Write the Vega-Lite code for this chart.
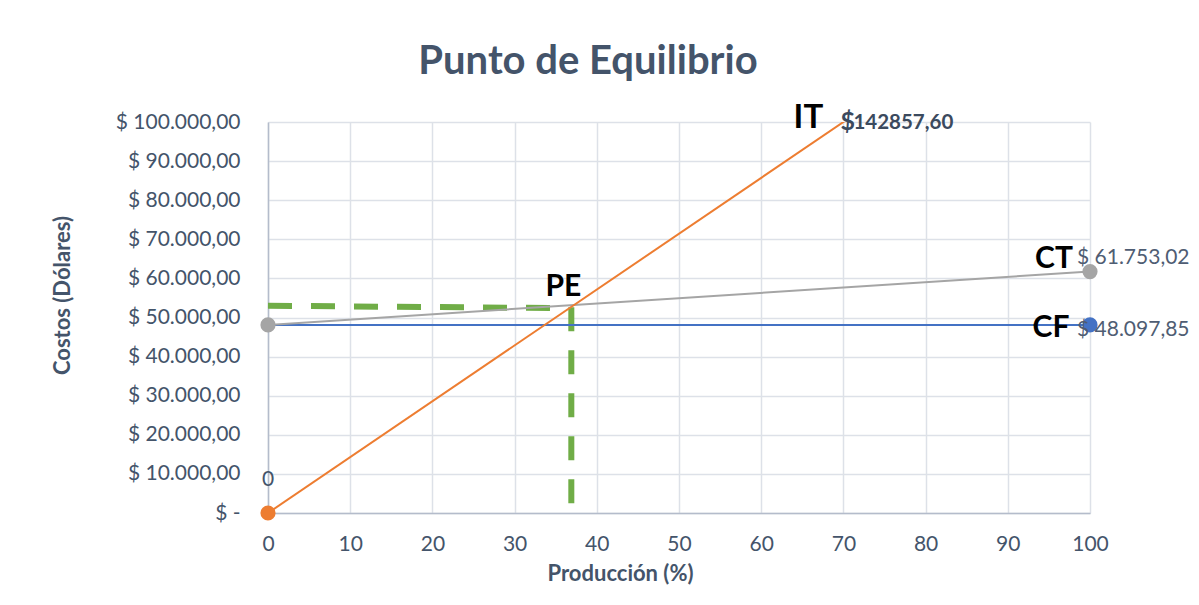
{
  "$schema": "https://vega.github.io/schema/vega-lite/v6.json",
  "autosize": "none",
  "width": 822,
  "height": 391,
  "padding": {"left": 268, "top": 122, "right": 109, "bottom": 92},
  "background": "white",
  "config": {
    "locale": {"number": {"decimal": ",", "thousands": ".", "grouping": [3], "currency": ["$ ", ""]}},
    "font": "Lato",
    "view": {"stroke": null},
    "axis": {
      "labelFont": "Lato",
      "labelFontSize": 21,
      "labelColor": "#44546A",
      "labelFlush": false,
      "titleFont": "Lato",
      "titleFontSize": 22,
      "titleFontWeight": "bold",
      "titleColor": "#44546A",
      "gridColor": "#DDE1E8",
      "gridWidth": 1.5,
      "domainColor": "#B4BCCB",
      "domainWidth": 1.5,
      "ticks": false
    }
  },
  "title": {
    "text": "Punto de Equilibrio",
    "font": "Lato",
    "fontSize": 40,
    "fontWeight": "bold",
    "color": "#44546A",
    "anchor": "middle",
    "frame": "group",
    "dx": -91,
    "offset": 20
  },
  "datasets": {
    "lineas": [
      {"serie": "CF", "x": 0, "y": 48097.85},
      {"serie": "CF", "x": 100, "y": 48097.85},
      {"serie": "CT", "x": 0, "y": 48097.85},
      {"serie": "CT", "x": 100, "y": 61753.02},
      {"serie": "IT", "x": 0, "y": 0},
      {"serie": "IT", "x": 100, "y": 142857.6}
    ],
    "puntos": [
      {"serie": "CT", "x": 0, "y": 48097.85},
      {"serie": "CT", "x": 100, "y": 61753.02},
      {"serie": "CF", "x": 100, "y": 48097.85},
      {"serie": "IT", "x": 0, "y": 0}
    ],
    "guia": [
      {"tramo": "horizontal", "x": 0, "y": 53000},
      {"tramo": "horizontal", "x": 36.5, "y": 52400},
      {"tramo": "vertical", "x": 36.9, "y": 52600},
      {"tramo": "vertical", "x": 36.9, "y": 0}
    ]
  },
  "encoding": {
    "x": {
      "field": "x",
      "type": "quantitative",
      "scale": {"domain": [0, 100], "nice": false},
      "axis": {
        "values": [0, 10, 20, 30, 40, 50, 60, 70, 80, 90, 100],
        "grid": true,
        "labelPadding": 20,
        "title": "Producción (%)",
        "titleX": 352,
        "titleY": 60,
        "titleBaseline": "middle"
      }
    },
    "y": {
      "field": "y",
      "type": "quantitative",
      "scale": {"domain": [0, 100000], "nice": false},
      "axis": {
        "values": [0, 10000, 20000, 30000, 40000, 50000, 60000, 70000, 80000, 90000, 100000],
        "format": "$,.2f",
        "labelExpr": "datum.value === 0 ? '$ -\u00a0\u00a0' : datum.label",
        "labelPadding": 28,
        "grid": true,
        "title": "Costos (Dólares)",
        "titleX": -206,
        "titleY": 173,
        "titleBaseline": "middle"
      }
    }
  },
  "layer": [
    {
      "data": {"name": "guia"},
      "mark": {"type": "line", "color": "#70AD47", "strokeWidth": 6, "strokeDash": [24, 19], "strokeCap": "butt"},
      "encoding": {"detail": {"field": "tramo"}}
    },
    {
      "data": {"name": "lineas"},
      "mark": {"type": "line", "strokeWidth": 2, "clip": true},
      "encoding": {
        "color": {
          "field": "serie",
          "scale": {"domain": ["CF", "CT", "IT"], "range": ["#4472C4", "#A5A5A5", "#ED7D31"]},
          "legend": null
        }
      }
    },
    {
      "data": {"name": "puntos"},
      "mark": {"type": "circle", "size": 230, "opacity": 1, "clip": false},
      "encoding": {
        "color": {
          "field": "serie",
          "scale": {"domain": ["CF", "CT", "IT"], "range": ["#4472C4", "#A5A5A5", "#ED7D31"]},
          "legend": null
        }
      }
    },
    {
      "data": {"name": "puntos"},
      "transform": [{"filter": "datum.serie === 'IT'"}],
      "mark": {"type": "text", "fontSize": 21, "color": "#44546A", "dy": -33, "baseline": "middle", "align": "center"},
      "encoding": {"text": {"field": "y", "type": "quantitative", "format": "d"}}
    },
    {
      "data": {"name": "puntos"},
      "transform": [{"filter": "datum.serie === 'CT' && datum.x === 100"}],
      "mark": {"type": "text", "fontSize": 21, "color": "#4F5D73", "dx": -13, "dy": -14, "baseline": "middle", "align": "left"},
      "encoding": {"text": {"field": "y", "type": "quantitative", "format": "$,.2f"}}
    },
    {
      "data": {"name": "puntos"},
      "transform": [{"filter": "datum.serie === 'CF'"}],
      "mark": {"type": "text", "fontSize": 21, "color": "#4F5D73", "dx": -13, "dy": 5, "baseline": "middle", "align": "left"},
      "encoding": {"text": {"field": "y", "type": "quantitative", "format": "$,.2f"}}
    },
    {
      "data": {"name": "puntos"},
      "transform": [{"filter": "datum.serie === 'CT' && datum.x === 100"}],
      "mark": {"type": "text", "fontSize": 30, "fontWeight": "bold", "color": "#000000", "dx": -36, "dy": -13, "baseline": "middle", "align": "center"},
      "encoding": {"text": {"field": "serie"}}
    },
    {
      "data": {"name": "puntos"},
      "transform": [{"filter": "datum.serie === 'CF'"}],
      "mark": {"type": "text", "fontSize": 30, "fontWeight": "bold", "color": "#000000", "dx": -39, "dy": 3, "baseline": "middle", "align": "center"},
      "encoding": {"text": {"field": "serie"}}
    },
    {
      "data": {"name": "guia"},
      "transform": [{"filter": "datum.tramo === 'vertical' && datum.y > 0"}],
      "mark": {"type": "text", "fontSize": 30, "fontWeight": "bold", "color": "#000000", "dx": -8, "dy": -20, "baseline": "middle", "align": "center"},
      "encoding": {"text": {"value": "PE"}}
    },
    {
      "data": {"name": "lineas"},
      "transform": [{"filter": "datum.serie === 'IT' && datum.x === 100"}],
      "mark": {"type": "text", "fontSize": 33, "fontWeight": "bold", "color": "#000000", "dx": -35, "dy": -4, "baseline": "middle", "align": "center", "clip": false},
      "encoding": {"x": {"datum": 70}, "y": {"datum": 100000}, "text": {"field": "serie"}}
    },
    {
      "data": {"name": "lineas"},
      "transform": [{"filter": "datum.serie === 'IT' && datum.x === 100"}],
      "mark": {"type": "text", "fontSize": 25, "fontWeight": "bold", "color": "#3B4A5E", "dx": -3, "dy": 0, "baseline": "middle", "align": "left", "clip": false},
      "encoding": {"x": {"datum": 70}, "y": {"datum": 100000}, "text": {"value": "$"}}
    },
    {
      "data": {"name": "lineas"},
      "transform": [{"filter": "datum.serie === 'IT' && datum.x === 100"}],
      "mark": {"type": "text", "fontSize": 20.5, "fontWeight": "bold", "color": "#3B4A5E", "dx": 10, "dy": 1, "baseline": "middle", "align": "left", "clip": false},
      "encoding": {"x": {"datum": 70}, "y": {"datum": 100000}, "text": {"field": "y", "type": "quantitative", "format": ".2f"}}
    }
  ]
}
